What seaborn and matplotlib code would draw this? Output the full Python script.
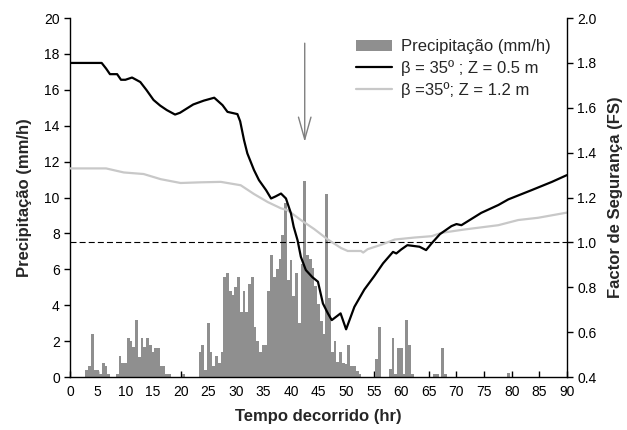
import numpy as np
import pandas as pd
import matplotlib
matplotlib.use("Agg")
import matplotlib.pyplot as plt
from matplotlib.patches import Patch
from matplotlib.lines import Line2D
import seaborn as sns

# ── Data ──────────────────────────────────────────────────────────────────────
# half-hourly rainfall (mm/h), bar centres at 0, 0.5, ... 89.5 h
rain_time = np.arange(0, 90, 0.5)
rain = [
    # 0 - 9.5 h
    0, 0, 0, 0, 0, 0, 0.4, 0.6, 2.4, 0.4, 0.4, 0.2, 0.8, 0.6, 0.2, 0, 0, 0.2, 1.2, 0.8,
    # 10 - 19.5 h
    0.8, 2.2, 2.0, 1.7, 3.2, 1.1, 2.2, 1.7, 2.2, 1.8, 1.4, 1.6, 1.6, 0.6, 0.6, 0.2, 0.2, 0, 0, 0,
    # 20 - 29.5 h
    0, 0.2, 0, 0, 0, 0, 0, 1.4, 1.8, 0.4, 3.0, 1.4, 0.6, 1.2, 0.8, 1.4, 5.6, 5.8, 4.8, 4.6,
    # 30 - 39.5 h
    5.0, 5.6, 3.6, 4.8, 3.6, 5.2, 5.6, 2.8, 2.0, 1.4, 1.8, 1.8, 4.8, 6.8, 5.6, 6.0, 6.6, 7.9, 9.7, 5.4,
    # 40 - 49.5 h
    6.5, 4.5, 5.8, 3.0, 6.3, 10.9, 6.8, 6.6, 6.1, 5.1, 4.1, 3.1, 2.4, 10.2, 4.4, 1.4, 2.0, 0.85, 1.4, 0.8,
    # 50 - 59.5 h
    0.75, 1.8, 0.6, 0.6, 0.35, 0.15, 0, 0, 0, 0, 0, 1.0, 2.8, 0, 0, 0, 0.45, 2.2, 0.2, 1.6,
    # 60 - 69.5 h
    1.6, 0.2, 3.2, 1.8, 0.2, 0, 0, 0, 0, 0, 0, 0, 0.2, 0.2, 0, 1.6, 0.2, 0, 0, 0,
    # 70 - 79.5 h
    0, 0, 0, 0, 0, 0, 0, 0, 0, 0, 0, 0, 0, 0, 0, 0, 0, 0, 0, 0.25,
    # 80 - 89.5 h
    0, 0, 0, 0, 0, 0, 0, 0, 0, 0, 0, 0, 0, 0, 0, 0, 0, 0, 0, 0,
]

# factor of safety, Z = 0.5 m
fs_05_time = [0, 5.7, 6.5, 7.2, 8.5, 9.2, 10.0, 11.2, 12.7, 13.8, 15.1, 16.3, 17.5,
              19.0, 19.9, 21.0, 22.3, 24.2, 26.1, 27.6, 28.5, 30.3, 30.8, 31.5,
              32.1, 33.3, 34.2, 35.5, 36.4, 37.2, 38.2, 39.1, 40.0, 40.5, 41.2, 41.8,
              42.7, 43.9, 44.9, 45.8, 46.7, 47.4, 48.2, 49.0, 50.0, 51.5, 53.3, 55.1,
              56.7, 58.5, 59.1, 60.0, 61.1, 63.3, 64.5, 65.5, 67.0, 69.1, 70.0, 70.9,
              74.5, 77.6, 79.4, 83.6, 87.3, 90.0]
fs_05 = [1.80, 1.80, 1.775, 1.75, 1.75, 1.725, 1.725, 1.735, 1.715, 1.68, 1.635, 1.61,
         1.59, 1.57, 1.578, 1.595, 1.615, 1.632, 1.645, 1.612, 1.582, 1.572, 1.54,
         1.456, 1.397, 1.323, 1.278, 1.233, 1.196, 1.205, 1.218, 1.196, 1.13, 1.07,
         1.01, 0.936, 0.877, 0.845, 0.825, 0.728, 0.684, 0.654, 0.669, 0.684, 0.613,
         0.713, 0.79, 0.85, 0.907, 0.958, 0.951, 0.969, 0.988, 0.981, 0.966, 0.996,
         1.037, 1.073, 1.082, 1.077, 1.132, 1.167, 1.192, 1.233, 1.27, 1.30]

# factor of safety, Z = 1.2 m
fs_12_time = [0, 6.5, 9.7, 13.3, 16.4, 20.0, 23.6, 27.3, 30.9, 33.3, 35.8, 38.2, 39.4,
              41.8, 44.2, 46.7, 49.1, 50.3, 52.7, 53.1, 53.9, 56.4, 58.8, 62.4, 65.5,
              67.3, 71.5, 77.6, 81.2, 84.8, 90.0]
fs_12 = [1.33, 1.33, 1.312, 1.305, 1.282, 1.265, 1.268, 1.27, 1.255, 1.216, 1.18,
         1.152, 1.144, 1.10, 1.06, 1.013, 0.975, 0.962, 0.962, 0.955, 0.97, 0.99,
         1.013, 1.022, 1.028, 1.043, 1.058, 1.077, 1.10, 1.11, 1.133]

x_ticks = list(range(0, 95, 5))
left_ticks = list(range(0, 22, 2))
right_ticks = [0.4, 0.6, 0.8, 1.0, 1.2, 1.4, 1.6, 1.8, 2.0]

labels = ["Precipitação (mm/h)", "β = 35º ; Z = 0.5 m", "β =35º; Z = 1.2 m"]

BAR_COLOR = "#8f8f8f"
LIGHT = "#c8c8c8"

# ── Plot ──────────────────────────────────────────────────────────────────────
sns.set_style("ticks")
plt.rcParams["font.family"] = ["Liberation Sans", "DejaVu Sans"]

fig = plt.figure(figsize=(6.27, 4.30), dpi=100)
ax = fig.add_axes([0.112, 0.123, 0.792, 0.835])
ax2 = ax.twinx()

rain_df = pd.DataFrame({"t": rain_time, "rain": rain})
sns.barplot(data=rain_df, x="t", y="rain", native_scale=True, width=1.0,
            color=BAR_COLOR, saturation=1, linewidth=0, errorbar=None, ax=ax)

ax.axhline(7.5, color="black", lw=0.8, ls=(0, (5.4, 2.8)))
ax.annotate("", xy=(42.5, 13.1), xytext=(42.5, 18.6),
            arrowprops=dict(arrowstyle="->,head_length=1.6,head_width=0.45",
                            color="#808080", lw=1.0, shrinkA=0, shrinkB=0))

df05 = pd.DataFrame({"t": fs_05_time, "fs": fs_05})
df12 = pd.DataFrame({"t": fs_12_time, "fs": fs_12})
sns.lineplot(data=df12, x="t", y="fs", color=LIGHT, lw=1.6, estimator=None, ax=ax2)
sns.lineplot(data=df05, x="t", y="fs", color="black", lw=1.6, estimator=None, ax=ax2)

ax.set_xlim(0, 90)
ax.set_ylim(0, 20)
ax2.set_ylim(0.4, 2.0)
ax.set_xticks(x_ticks)
ax.set_xticklabels([str(v) for v in x_ticks])
ax.set_yticks(left_ticks)
ax2.set_yticks(right_ticks)
ax2.set_yticklabels([f"{v:.1f}" for v in right_ticks])

ax.set_xlabel("Tempo decorrido (hr)", fontsize=12, fontweight="bold", labelpad=7)
ax.set_ylabel("Precipitação (mm/h)", fontsize=12, fontweight="bold", labelpad=9)
ax2.set_ylabel("Factor de Segurança (FS)", fontsize=12, fontweight="bold", labelpad=8)

ax.tick_params(axis="x", direction="in", length=4, width=1, labelsize=10, pad=6,
               colors="black")
ax.tick_params(axis="y", direction="out", length=4, width=1, labelsize=10,
               colors="black")
ax2.tick_params(axis="y", direction="out", length=4, width=1, labelsize=10,
                colors="black")

for a in (ax, ax2):
    a.spines["top"].set_visible(False)
    for s in ("left", "right", "bottom"):
        a.spines[s].set_linewidth(1.0)
        a.spines[s].set_color("black")
ax.spines["right"].set_visible(False)
ax2.spines["left"].set_visible(False)
ax2.spines["bottom"].set_visible(False)

handles = [Patch(facecolor=BAR_COLOR, edgecolor="none"),
           Line2D([], [], color="black", lw=1.6),
           Line2D([], [], color=LIGHT, lw=1.6)]
ax2.legend(handles, labels, loc="upper left", bbox_to_anchor=(0.575, 0.941),
           frameon=False, fontsize=12, labelspacing=0.35, handlelength=2.2,
           handletextpad=0.5, borderpad=0, borderaxespad=0)

fig.savefig("out.png", dpi=100)
